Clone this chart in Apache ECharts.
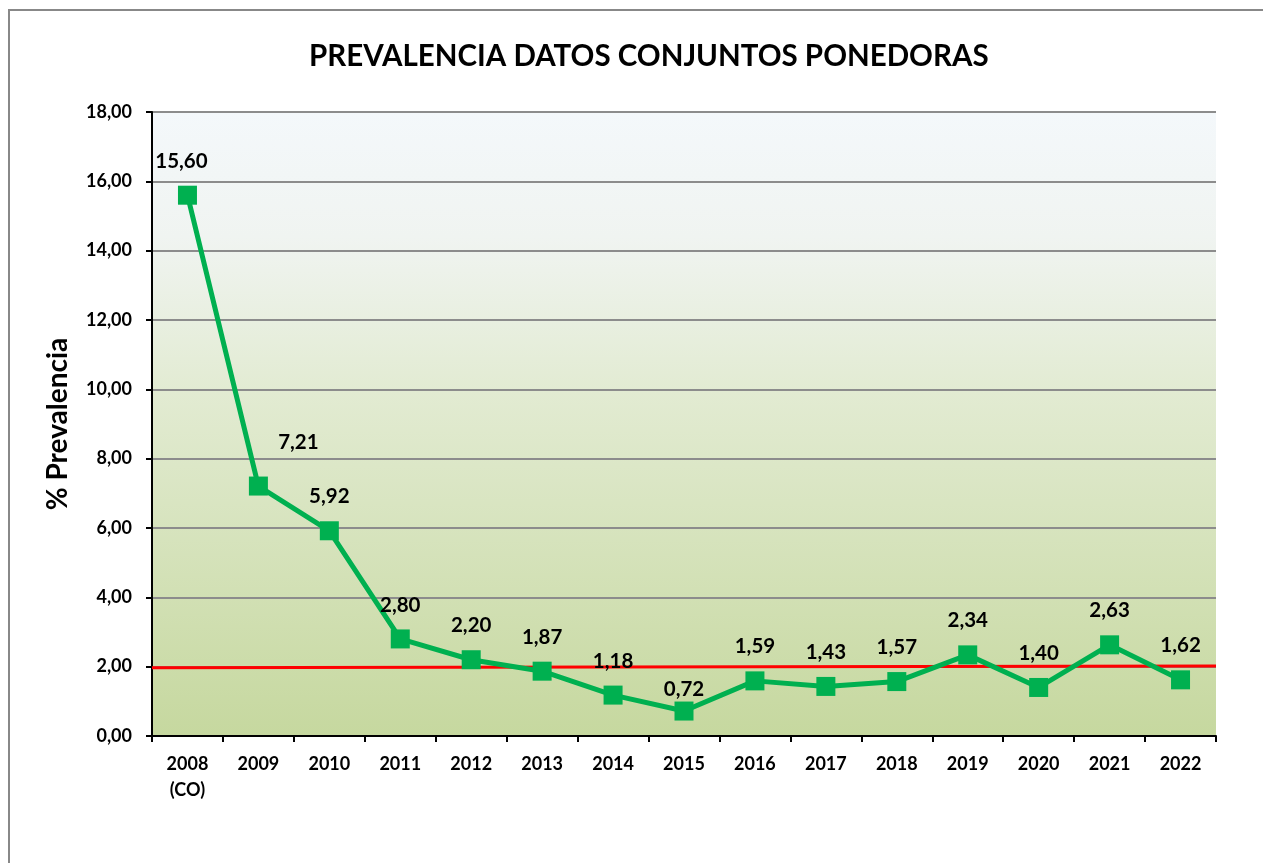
<!DOCTYPE html>
<html><head><meta charset="utf-8">
<script src="https://cdn.jsdelivr.net/npm/echarts@6/dist/echarts.min.js"></script>
<style>html,body{margin:0;padding:0;background:#fff}#c{width:1263px;height:863px}</style>
</head><body><div id="c"></div>
<script>
const categories = ['2008\n(CO)','2009','2010','2011','2012','2013','2014','2015','2016','2017','2018','2019','2020','2021','2022'];
const prevalence = [15.60, 7.21, 5.92, 2.80, 2.20, 1.87, 1.18, 0.72, 1.59, 1.43, 1.57, 2.34, 1.40, 2.63, 1.62];
const referenceLine = [[0, 1.97], [1, 2.02]];
const yTicks = {min: 0, max: 18, interval: 2};
// label offsets (style only)
const labelOffsets = [[-6,0],[40,-10],[0,0],[0,0],[0,0],[0,0],[0,0],[0,12],[0,0],[0,0],[0,0],[0,0],[0,0],[0,0],[0,0]];

const FONT = 'Lato';
const chart = echarts.init(document.getElementById('c'));
chart.setOption({
  backgroundColor: '#fff',
  animation: false,
  graphic: [{type:'rect', shape:{x:9, y:10, width:1400, height:1000}, style:{fill:'none', stroke:'#888', lineWidth:2}, z:-1}],
  title: {text: 'PREVALENCIA DATOS CONJUNTOS PONEDORAS', left: 304, top: 36,
    textStyle: {fontFamily: FONT, fontWeight: 'bold', fontSize: 29.5, color: '#000'}},
  grid: {left: 152, right: 47, top: 112, bottom: 127, show: true, borderWidth: 0,
    backgroundColor: {type:'linear', x:0, y:0, x2:0, y2:1, colorStops:[
      {offset:0, color:'#f4f8fb'},{offset:0.2, color:'#f0f4f1'},{offset:0.45, color:'#e2ebd2'},{offset:1, color:'#c6d89f'}]}},
  xAxis: [{type: 'category', data: categories, boundaryGap: true,
    axisLine: {lineStyle: {color: '#000', width: 2}},
    axisTick: {show: true, length: 6, lineStyle: {color: '#000', width: 2}},
    axisLabel: {fontFamily: FONT, fontWeight: 'bold', fontSize: 18, color: '#000', margin: 15, lineHeight: 26, interval: 0}},
    {type: 'value', min: 0, max: 1, show: false}],
  yAxis: {type: 'value', min: yTicks.min, max: yTicks.max, interval: yTicks.interval,
    name: '% Prevalencia', nameLocation: 'middle', nameGap: 80, nameRotate: 90,
    nameTextStyle: {fontFamily: FONT, fontWeight: 'bold', fontSize: 28, color: '#000'},
    axisLine: {show: true, lineStyle: {color: '#000', width: 2}},
    axisTick: {show: true, length: 6, lineStyle: {color: '#000', width: 2}},
    splitLine: {lineStyle: {color: '#8c8c8c', width: 2}},
    axisLabel: {fontFamily: FONT, fontWeight: 'bold', fontSize: 18, color: '#000', margin: 20,
      formatter: v => v.toFixed(2).replace('.', ',')}},
  series: [
    {type: 'line', xAxisIndex: 1, data: referenceLine, symbol: 'none', silent: true,
      lineStyle: {color: '#ff0000', width: 3}, z: 3},
    {type: 'line', xAxisIndex: 0,
      data: prevalence.map((v, i) => ({value: v, label: {offset: labelOffsets[i]}})),
      symbol: 'rect', symbolSize: 19, itemStyle: {color: '#00b050'},
      lineStyle: {color: '#00b050', width: 5}, z: 4,
      label: {show: true, position: 'top', distance: 14, fontFamily: FONT, fontWeight: 'bold', fontSize: 20.5, color: '#000',
        formatter: p => p.value.toFixed(2).replace('.', ',')}}
  ]
});
</script></body></html>
